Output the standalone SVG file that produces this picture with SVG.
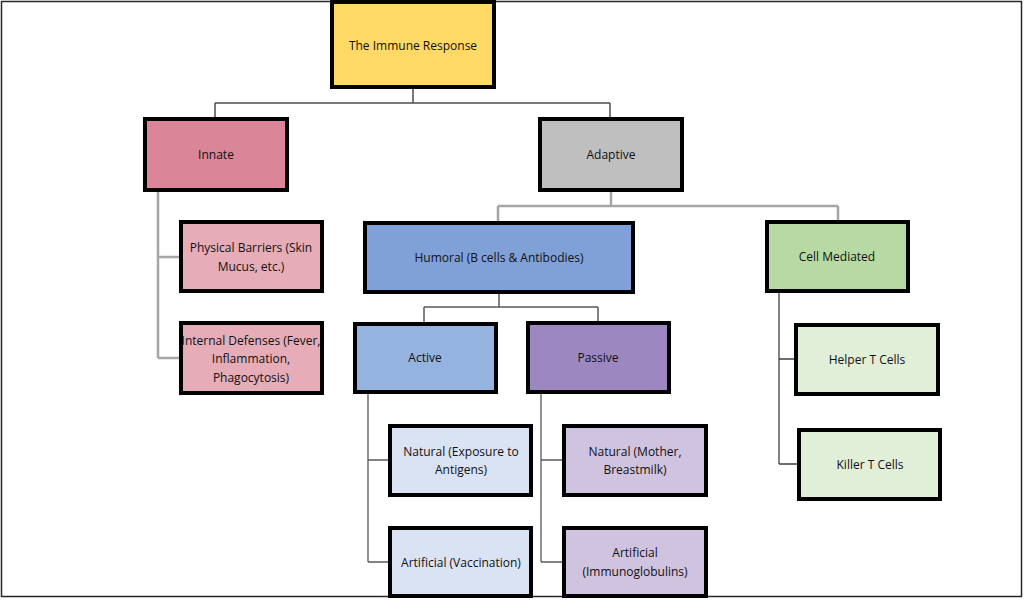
<svg xmlns="http://www.w3.org/2000/svg" width="1024" height="600" viewBox="0 0 1024 600">
<style>
.n{stroke:#000;stroke-width:4}
.t{font-family:"Open Sans","Noto Sans","Liberation Sans",sans-serif;font-size:12px;fill:#111;text-anchor:middle;dominant-baseline:central}
.c{fill:none}
</style>
<rect x="1.5" y="1.5" width="1020" height="595" fill="#fff" stroke="#262626" stroke-width="1.5"/>
<g id="connectors" class="c">
<path d="M413 89V103M215 103H610M215 103V117M610 103V117" stroke="#4d4d4d" stroke-width="1.5"/>
<path d="M158 192V358M158 257H179M158 358H179" stroke="#a6a6a6" stroke-width="2.5"/>
<path d="M611 192V206M498 206H838M498 206V221M838 206V220" stroke="#a6a6a6" stroke-width="2.5"/>
<path d="M499 294V307M424 307H598M424 307V322M598 307V321" stroke="#595959" stroke-width="1.5"/>
<path d="M779 293V464M779 359H794M779 464H797" stroke="#404040" stroke-width="1.3"/>
<path d="M368 394V562M368 460H388M368 562H388" stroke="#595959" stroke-width="1.3"/>
<path d="M541 394V562M541 460H562M541 562H562" stroke="#595959" stroke-width="1.3"/>
</g>
<g id="root"><rect class="n" x="332" y="2" width="162" height="85" fill="#FFD966"/><text class="t" x="413" y="45">The Immune Response</text></g>
<g id="innate"><rect class="n" x="145" y="119" width="142" height="71" fill="#DB8599"/><text class="t" x="216" y="154">Innate</text></g>
<g id="adaptive"><rect class="n" x="540" y="119" width="142" height="71" fill="#BFBFBF"/><text class="t" x="611" y="154">Adaptive</text></g>
<g id="physical"><rect class="n" x="181" y="222" width="141" height="69" fill="#E6ADB8"/><text class="t" x="251" y="247">Physical Barriers (Skin</text><text class="t" x="251" y="266">Mucus, etc.)</text></g>
<g id="internal"><rect class="n" x="181" y="323" width="141" height="70" fill="#E6ADB8"/><text class="t" x="251" y="340">Internal Defenses (Fever,</text><text class="t" x="251" y="358">Inflammation,</text><text class="t" x="251" y="377">Phagocytosis)</text></g>
<g id="humoral"><rect class="n" x="365" y="223" width="268" height="69" fill="#7FA1D8"/><text class="t" x="499" y="257">Humoral (B cells &amp; Antibodies)</text></g>
<g id="cellmediated"><rect class="n" x="767" y="222" width="141" height="69" fill="#B7DAA5"/><text class="t" x="837" y="256">Cell Mediated</text></g>
<g id="active"><rect class="n" x="355" y="324" width="141" height="68" fill="#95B3DF"/><text class="t" x="425" y="357">Active</text></g>
<g id="passive"><rect class="n" x="528" y="323" width="141" height="69" fill="#9D87C1"/><text class="t" x="598" y="357">Passive</text></g>
<g id="helper"><rect class="n" x="796" y="325" width="142" height="69" fill="#E1EED8"/><text class="t" x="867" y="359">Helper T Cells</text></g>
<g id="killer"><rect class="n" x="799" y="430" width="141" height="69" fill="#E1EED8"/><text class="t" x="870" y="464">Killer T Cells</text></g>
<g id="natural-active"><rect class="n" x="390" y="426" width="141" height="69" fill="#DAE3F3"/><text class="t" x="461" y="451">Natural (Exposure to</text><text class="t" x="461" y="469">Antigens)</text></g>
<g id="artificial-active"><rect class="n" x="390" y="528" width="141" height="68" fill="#DAE3F3"/><text class="t" x="461" y="562">Artificial (Vaccination)</text></g>
<g id="natural-passive"><rect class="n" x="564" y="426" width="142" height="69" fill="#D0C3E0"/><text class="t" x="635" y="451">Natural (Mother,</text><text class="t" x="635" y="469">Breastmilk)</text></g>
<g id="artificial-passive"><rect class="n" x="564" y="528" width="142" height="68" fill="#D0C3E0"/><text class="t" x="635" y="552">Artificial</text><text class="t" x="635" y="571">(Immunoglobulins)</text></g>
</svg>
